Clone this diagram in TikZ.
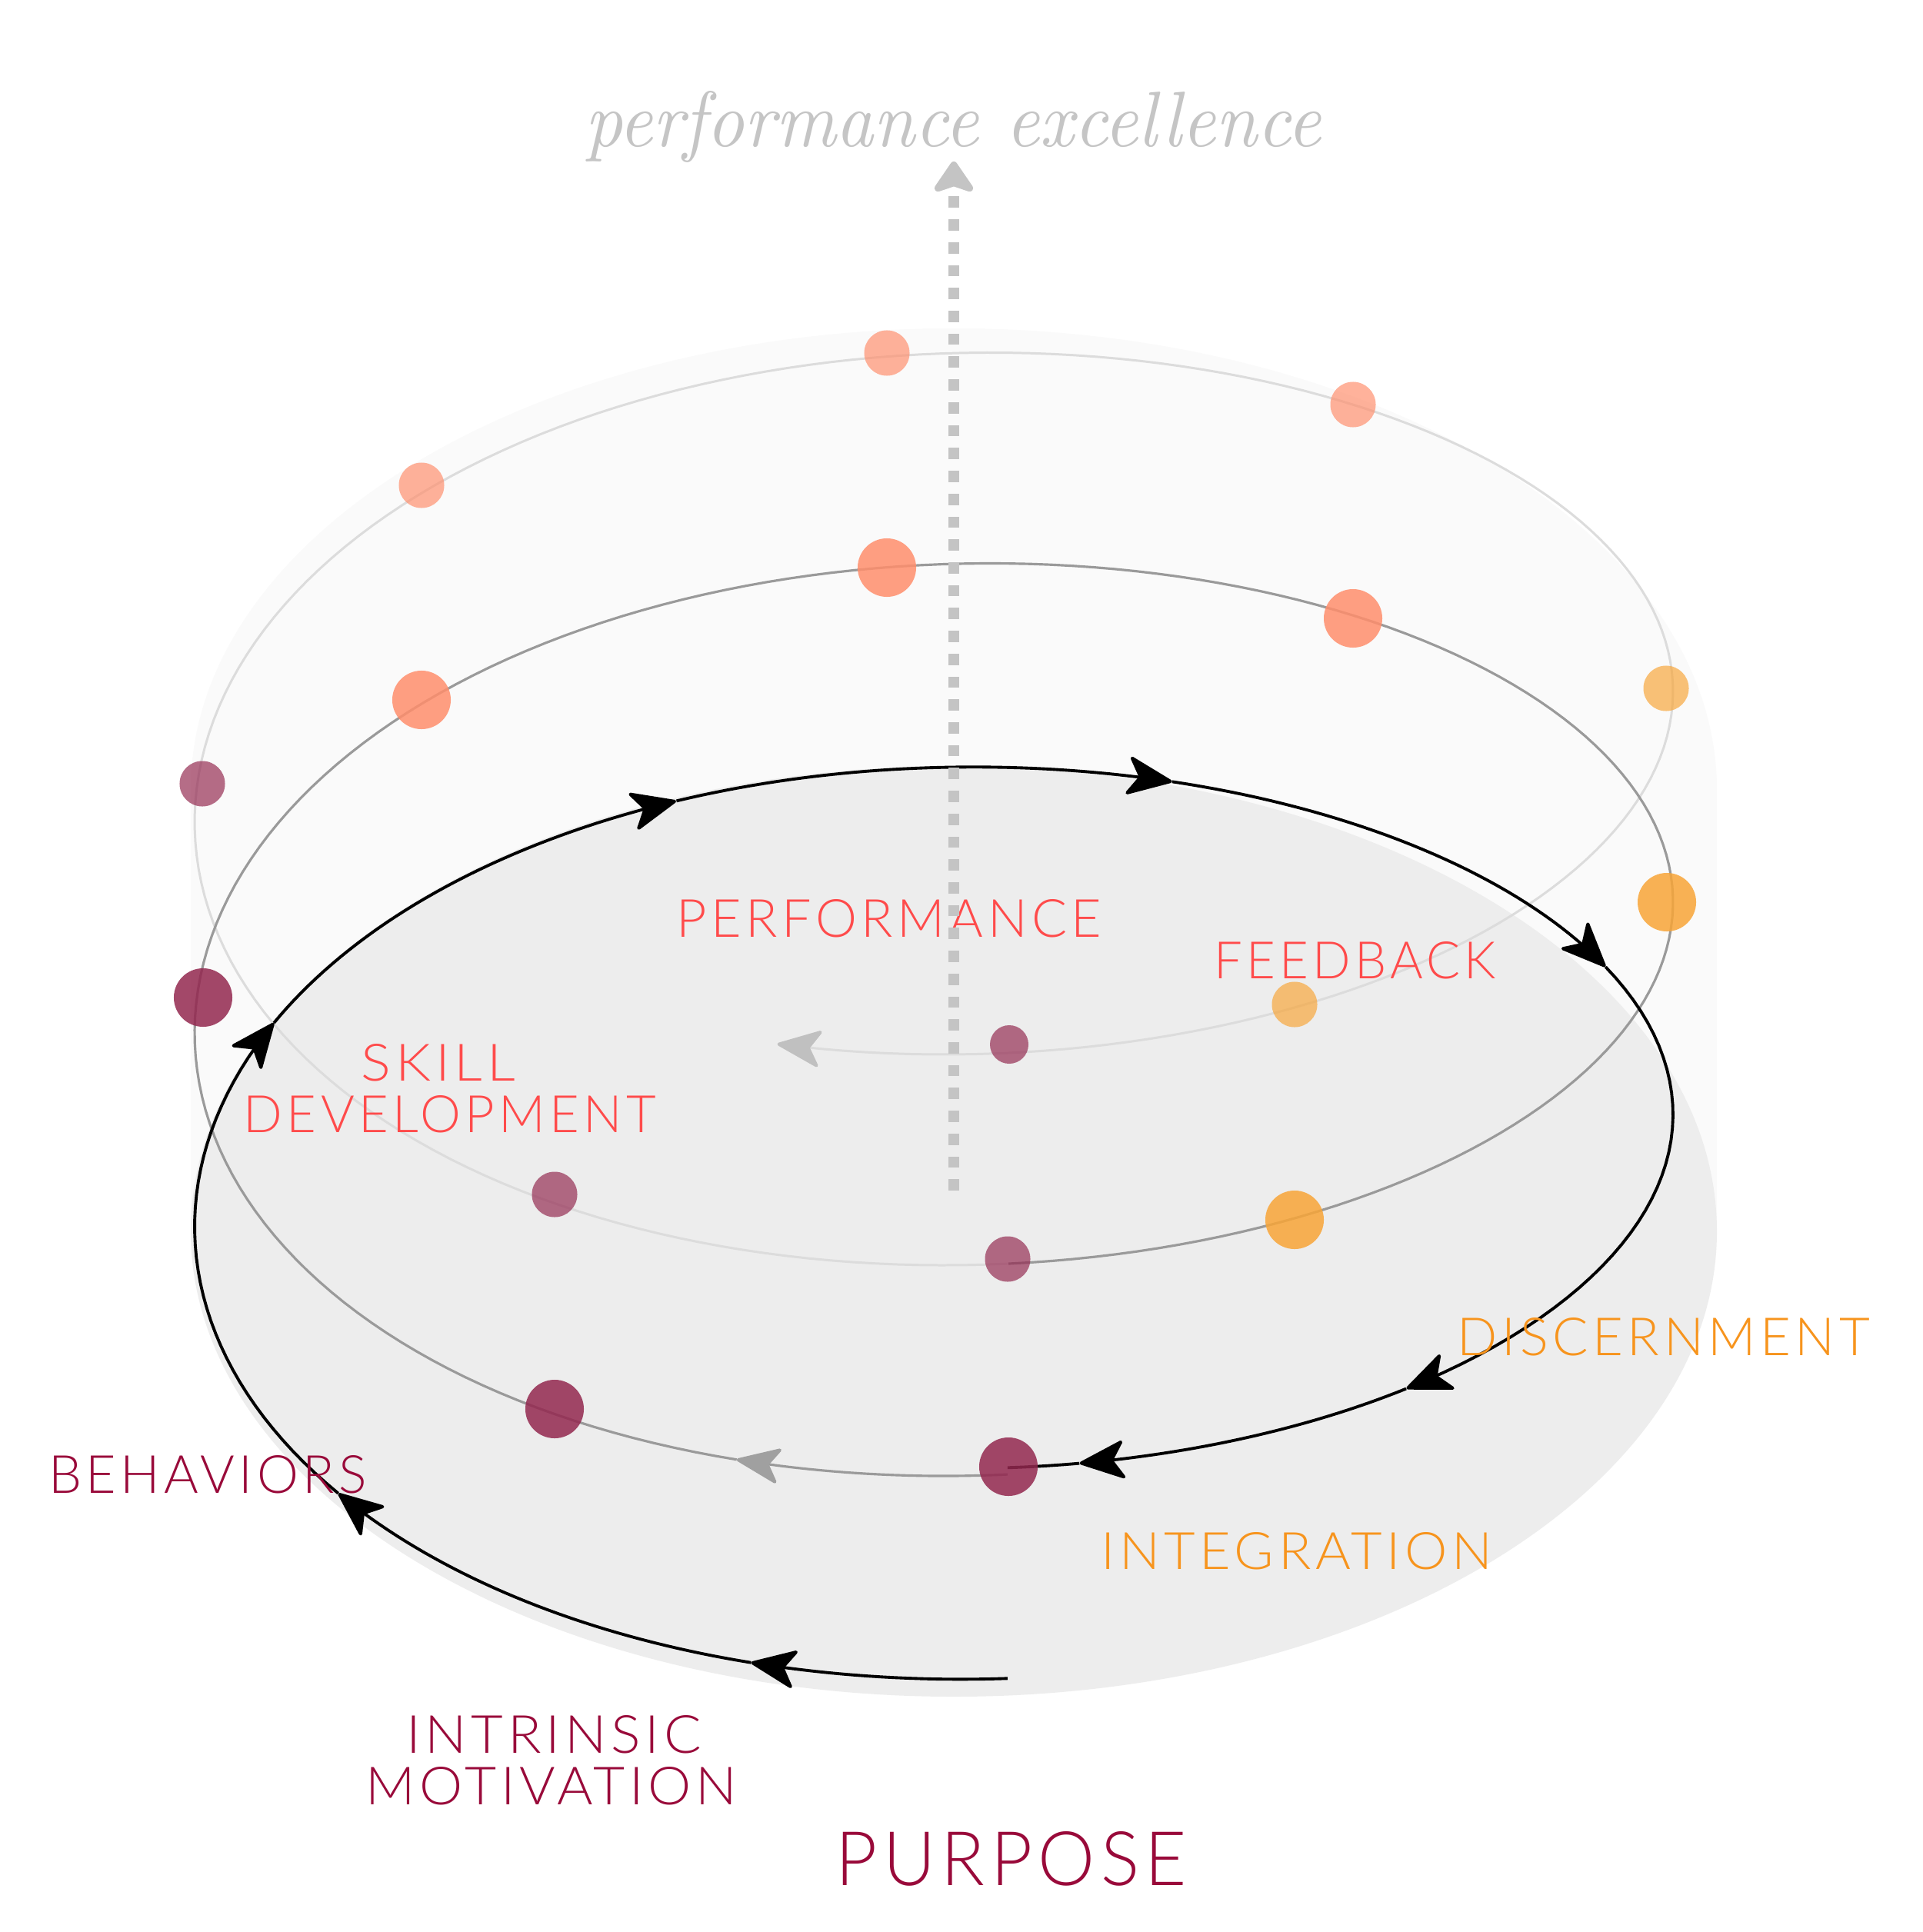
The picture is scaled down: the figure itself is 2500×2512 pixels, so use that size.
\documentclass[tikz,border=0pt]{standalone}
\usepackage[T1,TU]{fontenc}
\usepackage{fontspec}
\usepackage{graphicx}
\usetikzlibrary{arrows.meta}
\IfFontExistsTF{Lato Light}{%
  \newfontfamily\labfont{Lato Light}[LetterSpace=8]}{%
  \newfontfamily\labfont{Lato}[LetterSpace=8]}
\IfFileExists{t1qzc.fd}{%
  \newcommand\ttlfont{\fontencoding{T1}\fontfamily{qzc}\fontseries{m}\fontshape{it}\selectfont}}{%
  \newcommand\ttlfont{\itshape}}
\definecolor{labred}{HTML}{FF4B4B}
\definecolor{laborange}{HTML}{F7941D}
\definecolor{labcrimson}{HTML}{990A3A}
\definecolor{dotplum}{HTML}{93284F}
\definecolor{dotsalmon}{HTML}{FF8E6C}
\definecolor{dotorange}{HTML}{F8A538}
\definecolor{palebg}{HTML}{FAFAFA}
\definecolor{discgray}{HTML}{EDEDED}
\definecolor{litline}{HTML}{DCDCDC}
\definecolor{midline}{HTML}{9A9A9A}
\definecolor{litarrow}{HTML}{C0C0C0}
\definecolor{midarrow}{HTML}{A0A0A0}
\definecolor{dotline}{HTML}{C4C4C4}
\definecolor{ttlgray}{HTML}{C5C5C5}
\tikzset{
  lab/.style={inner sep=0pt, outer sep=0pt},
  bigdot/.style={circle, inner sep=0pt, minimum size=0.76cm, fill opacity=0.85},
  smalldot/.style={circle, inner sep=0pt, minimum size=0.59cm, fill opacity=0.68},
  tinydot/.style={circle, inner sep=0pt, minimum size=0.50cm, fill opacity=0.68},
  blkline/.style={draw=black, line width=1.1pt},
  midln/.style={draw=midline, line width=0.9pt},
  litln/.style={draw=litline, line width=0.85pt},
  blktip/.style={-{Stealth[length=0.64cm, width=0.54cm, inset=0.17cm, round, line width=1.2pt]}},
  midtip/.style={-{Stealth[length=0.62cm, width=0.5cm, inset=0.16cm, round, line width=1.2pt, color=midarrow]}},
  littip/.style={-{Stealth[length=0.62cm, width=0.52cm, inset=0.16cm, round, line width=1.2pt, color=litarrow]}},
}
\begin{document}
\begin{tikzpicture}[x=0.01cm, y=-0.01cm,
  declare function={
    hx(\t)=1214-961*sin(\t r);
    hy(\t)=1395+524*cos(\t r)-274*\t/(2*pi)+16.5*sin(\t r)+20*sin(\t r)*cos(\t r);
    by(\t)=1659+524*cos(\t r)-274*\t/(2*pi)+4.5*sin(\t r)+20*sin(\t r)*cos(\t r);
  }]
\useasboundingbox (0,0) rectangle (2500,2512);
\fill[white] (0,0) rectangle (2500,2512);

% background cylinder and disc
\fill[palebg] (1240,1027) ellipse [x radius=992, y radius=600];
\fill[palebg] (248,1027) rectangle (2232,1601);
\fill[discgray] (1240,1601) ellipse [x radius=992, y radius=605];

% top turn (light)
\draw[litln, littip] plot[domain=6.1832:12.7824, samples=220, variable=\t] ({hx(\t)},{hy(\t)});
\draw[draw=litline!50, line width=0.85pt] plot[domain=12.7824:12.84, samples=6, variable=\t] ({hx(\t)},{hy(\t)});

% middle turn
\draw[midln, midtip] plot[domain=-0.1:0.27, samples=20, variable=\t] ({hx(\t)},{hy(\t)});
\draw[midln] plot[domain=0.27:6.1832, samples=200, variable=\t] ({hx(\t)},{hy(\t)});

% black turn
\foreach \a/\b in {-0.1/0.25, 0.25/0.937, 0.937/2.038, 2.038/2.786, 2.786/3.470, 3.470/4.282, 4.282/5.590, 5.590/6.085}{
  \draw[blkline, blktip] plot[domain=\a:\b, samples=40, variable=\t] ({hx(\t)},{by(\t)});
}
\draw[blkline] plot[domain=6.085:6.1832, samples=10, variable=\t] ({hx(\t)},{by(\t)});

% dots, middle turn
\node[bigdot, fill=dotplum]   (dA) at (1311,1907) {};
\node[bigdot, fill=dotplum]   (dB) at (721,1832) {};
\node[bigdot, fill=dotplum]   (dC) at (264,1297) {};
\node[bigdot, fill=dotsalmon] (dD) at (548,910) {};
\node[bigdot, fill=dotsalmon] (dE) at (1153,738) {};
\node[bigdot, fill=dotsalmon] (dF) at (1759,804) {};
\node[bigdot, fill=dotorange] (dG) at (2167,1173) {};
\node[bigdot, fill=dotorange] (dH) at (1683,1586) {};
% dots, top turn
\node[smalldot, fill=dotplum]   (eI) at (1310,1637) {};
\node[smalldot, fill=dotplum]   (eB) at (721,1553) {};
\node[smalldot, fill=dotplum]   (eC) at (263,1019) {};
\node[smalldot, fill=dotsalmon] (eD) at (548,631) {};
\node[smalldot, fill=dotsalmon] (eE) at (1153,459) {};
\node[smalldot, fill=dotsalmon] (eF) at (1759,526) {};
\node[smalldot, fill=dotorange] (eG) at (2166,895) {};
\node[smalldot, fill=dotorange] (eH) at (1683,1306) {};
\node[tinydot, fill=dotplum]    (eA) at (1312,1358) {};

% labels
\node[lab, text=labred] (perf) at (1156,1194) {\resizebox{5.52cm}{0.49cm}{\labfont PERFORMANCE}};
\node[lab, text=labred] (feed) at (1762,1249) {\resizebox{3.66cm}{0.48cm}{\labfont FEEDBACK}};
\node[lab, text=labred] (skill) at (570,1382) {\resizebox{2.00cm}{0.48cm}{\labfont SKILL}};
\node[lab, text=labred] (devel) at (585,1449) {\resizebox{5.36cm}{0.48cm}{\labfont DEVELOPMENT}};
\node[lab, text=laborange] (disc) at (2163,1738) {\resizebox{5.36cm}{0.49cm}{\labfont DISCERNMENT}};
\node[lab, text=laborange] (integ) at (1686,2017) {\resizebox{5.09cm}{0.48cm}{\labfont INTEGRATION}};
\node[lab, text=labcrimson] (behav) at (270,1917) {\resizebox{4.13cm}{0.49cm}{\labfont BEHAVIORS}};
\node[lab, text=labcrimson] (intr) at (720,2255) {\resizebox{3.83cm}{0.49cm}{\labfont INTRINSIC}};
\node[lab, text=labcrimson] (motiv) at (717,2322) {\resizebox{4.82cm}{0.49cm}{\labfont MOTIVATION}};
\node[lab, text=labcrimson] (purp) at (1315,2417) {\resizebox{4.56cm}{0.70cm}{\labfont PURPOSE}};

% title
\node[lab, text=ttlgray, anchor=base west] (ttl) at (760,190) {\resizebox{9.57cm}{0.72cm}{\ttlfont performance excellence}};

% dotted rising arrow
\coordinate (dotbot) at (1240,1548);
\coordinate (dottop) at (1240,210);
\draw[draw=dotline, line width=0.14cm, dash pattern=on 0.147cm off 0.15cm,
      -{Stealth[length=0.46cm, width=0.62cm, inset=0.1cm, round, line width=3pt]}] (dotbot) -- (dottop);
\end{tikzpicture}
\end{document}
